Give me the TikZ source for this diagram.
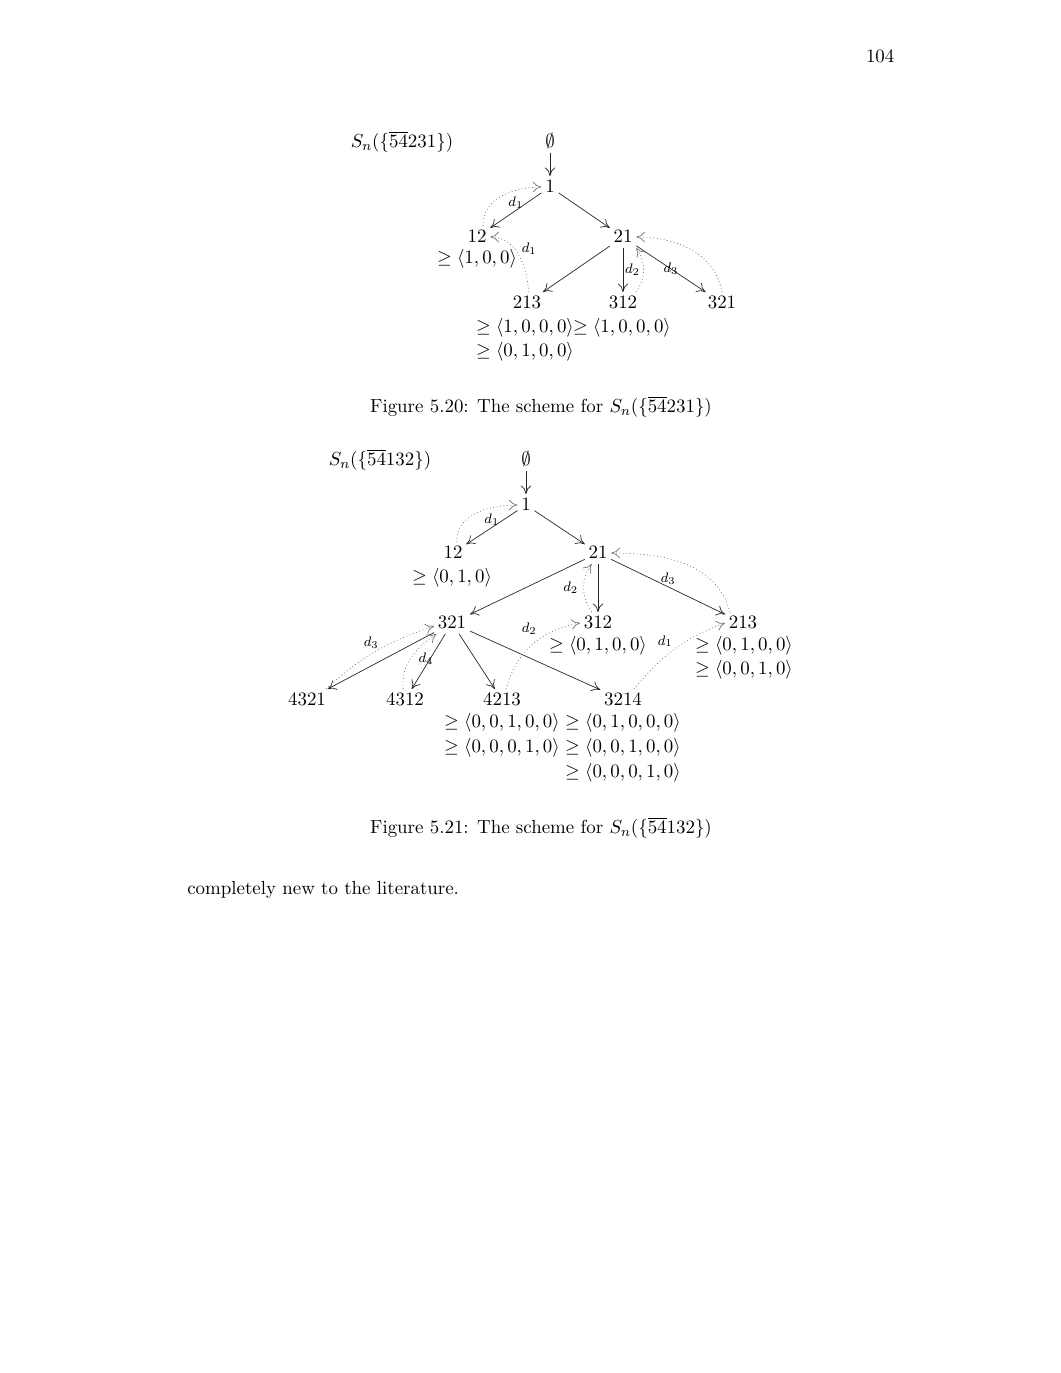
\documentclass[11pt,tikz,border=0pt]{standalone}
\usepackage{amssymb}
\usetikzlibrary{arrows.meta}
\begin{document}
\begin{tikzpicture}[x=0.02035cm, y=0.02035cm,
		perm/.style={inner sep=2pt, text height=1.5ex, text depth=0.25ex},
		lbl/.style={font=\scriptsize, inner sep=1pt, text=black},
		tree/.style={-{To[length=5pt,width=6pt]}, line width=0.4pt, black!85},
		back/.style={-{To[length=5pt,width=6pt]}, dash pattern=on 0.5pt off 1.5pt, black!55}]
			%%%%% START %%%%%
			
			\useasboundingbox (0, 0) rectangle (1061, -1373);
			\node[anchor=east] (pgno) at (901, -56) {104};
			
			% first scheme
			\node (ta) at (402, -142) {$S_n(\{\overline{54}231\})$};
			\node[perm] (a0) at (550, -142) {$\emptyset$};
			\node[perm] (a1) at (550, -187) {$1$};
			\node[perm] (a12) at (477, -237) {$12$};
			\node[perm] (a21) at (623, -237) {$21$};
			\node[perm] (a213) at (527, -303) {$213$};
			\node[perm] (a312) at (623, -303) {$312$};
			\node[perm] (a321) at (722, -303) {$321$};
			
			\node (ga12) at (477, -259) {$\geq \langle 1,0,0\rangle$};
			\node (ga213a) at (525, -328) {$\geq \langle 1,0,0,0\rangle$};
			\node (ga213b) at (525, -352) {$\geq \langle 0,1,0,0\rangle$};
			\node (ga312) at (622, -328) {$\geq \langle 1,0,0,0\rangle$};
			
			\draw[tree] (a0) -- (a1);
			\draw[tree] (a1) -- node[lbl, above] {$d_1$} (a12);
			\draw[tree] (a1) -- (a21);
			\draw[tree] (a21) -- (a213);
			\draw[tree] (a21) -- node[lbl, right] {$d_2$} (a312);
			\draw[tree] (a21) -- node[lbl, inner sep=0pt] {$d_3$} (a321);
			
			\draw[back] (a12.60) to[out=95, in=180] (a1.west);
			\draw[back] (a213.80) to[out=95, in=0] node[lbl, pos=0.6, right=3pt] {$d_1$} (a12.east);
			\draw[back] (a312.40) to[bend right=35] (a21.south east);
			\draw[back] (a321.north) to[out=100, in=0] (a21.east);
			
			\node (capa) at (541, -407) {Figure 5.20: The scheme for $S_n(\{\overline{54}231\})$};
			
			% second scheme
			\node (tb) at (380, -460) {$S_n(\{\overline{54}132\})$};
			\node[perm] (b0) at (526, -460) {$\emptyset$};
			\node[perm] (b1) at (526, -505) {$1$};
			\node[perm] (b12) at (453, -553) {$12$};
			\node[perm] (b21) at (598, -553) {$21$};
			\node[perm] (b321) at (452, -623) {$321$};
			\node[perm] (b312) at (598, -623) {$312$};
			\node[perm] (b213) at (743, -623) {$213$};
			\node[perm] (b4321) at (307, -700) {$4321$};
			\node[perm] (b4312) at (405, -700) {$4312$};
			\node[perm] (b4213) at (502, -700) {$4213$};
			\node[perm] (b3214) at (623, -700) {$3214$};
			
			\node (gb12) at (452, -578) {$\geq \langle 0,1,0\rangle$};
			\node (gb312) at (598, -646) {$\geq \langle 0,1,0,0\rangle$};
			\node (gb213a) at (744, -646) {$\geq \langle 0,1,0,0\rangle$};
			\node (gb213b) at (744, -670) {$\geq \langle 0,0,1,0\rangle$};
			\node (gb4213a) at (502, -723) {$\geq \langle 0,0,1,0,0\rangle$};
			\node (gb4213b) at (502, -748) {$\geq \langle 0,0,0,1,0\rangle$};
			\node (gb3214a) at (623, -723) {$\geq \langle 0,1,0,0,0\rangle$};
			\node (gb3214b) at (623, -748) {$\geq \langle 0,0,1,0,0\rangle$};
			\node (gb3214c) at (623, -773) {$\geq \langle 0,0,0,1,0\rangle$};
			
			\draw[tree] (b0) -- (b1);
			\draw[tree] (b1) -- node[lbl, above] {$d_1$} (b12);
			\draw[tree] (b1) -- (b21);
			\draw[tree] (b21) -- (b321);
			\draw[tree] (b21) -- (b312);
			\draw[tree] (b21) -- node[lbl, above] {$d_3$} (b213);
			\draw[tree] (b321) -- (b4321);
			\draw[tree] (b321) -- node[lbl, pos=0.45, left=-3pt] {$d_4$} (b4312);
			\draw[tree] (b321) -- (b4213);
			\draw[tree] (b321) -- (b3214);
			
			\draw[back] (b12.70) to[out=95, in=180] (b1.west);
			\draw[back] (b312.120) to[bend left=35] node[lbl, left=2pt] {$d_2$} (b21.240);
			\draw[back] (b213.140) to[out=105, in=0] (b21.east);
			\draw[back] (b4321.30) to[bend left=12] node[lbl, pos=0.45, above=2pt] {$d_3$} (b321.190);
			\draw[back] (b4312.100) to[out=95, in=215] (b321.215);
			\draw[back] (b4213.70) to[out=75, in=190] node[lbl, pos=0.6, above left=1pt] {$d_2$} (b312.west);
			\draw[back] (b3214.45) to[out=50, in=200] node[lbl, pos=0.5, above left] {$d_1$} (b213.west);
			
			\node (capb) at (541, -828) {Figure 5.21: The scheme for $S_n(\{\overline{54}132\})$};
			
			\node[anchor=west, inner sep=0pt] (txt) at (187, -890) {completely new to the literature.};
			
			%%%%% END %%%%%
\end{tikzpicture}
\end{document}
